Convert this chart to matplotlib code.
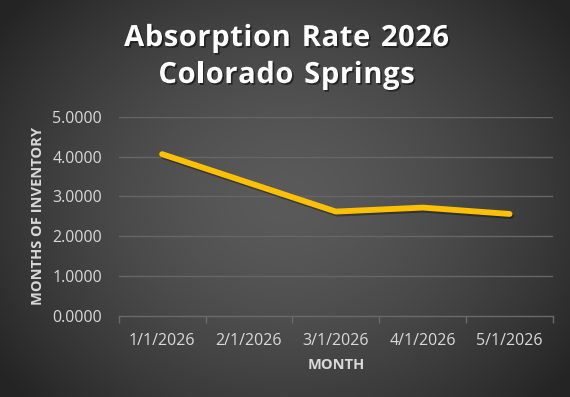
import numpy as np
import matplotlib
matplotlib.use("Agg")
import matplotlib.pyplot as plt
import matplotlib.patheffects as pe

categories = ["1/1/2026", "2/1/2026", "3/1/2026", "4/1/2026", "5/1/2026"]
values = [4.06, 3.34, 2.62, 2.72, 2.56]
yticks = [0, 1, 2, 3, 4, 5]
title_lines = ["Absorption Rate 2026", "Colorado Springs"]

W, H, DPI = 570, 397, 100
fig = plt.figure(figsize=(W / DPI, H / DPI), dpi=DPI)

# radial gradient background
bg = fig.add_axes([0, 0, 1, 1], zorder=0)
yy, xx = np.mgrid[0:H, 0:W]
cx, cy = W * 0.5, H * 0.5
r = np.sqrt(((xx - cx) / (W * 0.62)) ** 2 + ((yy - cy) / (H * 0.75)) ** 2)
r = np.clip(r, 0, 1)
c0 = np.array([0x5a, 0x5a, 0x5a]) / 255
c1 = np.array([0x24, 0x24, 0x24]) / 255
img = c0[None, None, :] * (1 - r[..., None] ** 1.6) + c1[None, None, :] * (r[..., None] ** 1.6)
bg.imshow(img, aspect="auto", extent=[0, 1, 0, 1])
bg.axis("off")

left, right = 118.7 / W, 553 / W
top, bottom = 116.7 / H, 316 / H
ax = fig.add_axes([left, 1 - bottom, right - left, bottom - top], zorder=1)
ax.patch.set_alpha(0)

x = np.arange(len(categories))
ax.plot(x, values, color="#FFC000", lw=4.2, solid_capstyle="round", solid_joinstyle="round",
        zorder=3,
        path_effects=[pe.SimpleLineShadow(offset=(1, -1.5), shadow_color="black", alpha=0.35), pe.Normal()])

ax.set_xlim(-0.5, len(categories) - 0.5)
ax.set_ylim(0, 5)
ax.set_yticks(yticks)
ax.set_yticklabels([f"{v:.4f}" for v in yticks])
ax.set_xticks(x)
ax.set_xticklabels(categories)
ax.set_xticks(np.arange(-0.5, len(categories), 1), minor=True)

for v in yticks[1:]:
    ax.axhline(v, color="#666666", lw=1.0, zorder=1)

for s in ["top", "right", "left"]:
    ax.spines[s].set_visible(False)
ax.spines["bottom"].set_color("#6a6a6a")
ax.spines["bottom"].set_linewidth(1.0)

tickfont = "Open Sans"
ax.tick_params(axis="y", length=0, pad=12, labelsize=11.5, labelcolor="#d9d9d9")
ax.tick_params(axis="x", which="major", length=0, pad=12, labelsize=11.5, labelcolor="#d9d9d9")
ax.tick_params(axis="x", which="minor", length=5, width=1, color="#6a6a6a")
for lab in ax.get_xticklabels() + ax.get_yticklabels():
    lab.set_fontfamily(tickfont)

ax.set_ylabel("MONTHS OF INVENTORY", fontsize=10.5, fontweight="bold", color="#d9d9d9",
              fontfamily=tickfont, labelpad=5)
ax.set_xlabel("MONTH", fontsize=10.5, fontweight="bold", color="#d9d9d9",
              fontfamily=tickfont, labelpad=7)

# letter-spaced title
renderer = fig.canvas.get_renderer()
tkw = dict(fontsize=21, fontweight="bold", color="white", fontfamily="Open Sans",
           path_effects=[pe.withSimplePatchShadow(offset=(1.2, -1.2), shadow_rgbFace="black", alpha=0.5)])
spacing = 0.6  # px
line_y = [35, 72]
for line, yc in zip(title_lines, line_y):
    widths = []
    for ch in line:
        t = fig.text(0, 0, "n" if ch == " " else ch, **tkw)
        w = t.get_window_extent(renderer).width
        if ch == " ":
            w *= 0.5
        t.remove()
        widths.append(w)
    total = sum(widths) + spacing * (len(line) - 1)
    xpos = W * 0.5 - total / 2 + 1.5
    for ch, w in zip(line, widths):
        if ch != " ":
            fig.text(xpos / W, 1 - yc / H, ch, ha="left", va="center_baseline", **tkw)
        xpos += w + spacing

fig.savefig("out.png", dpi=DPI)
